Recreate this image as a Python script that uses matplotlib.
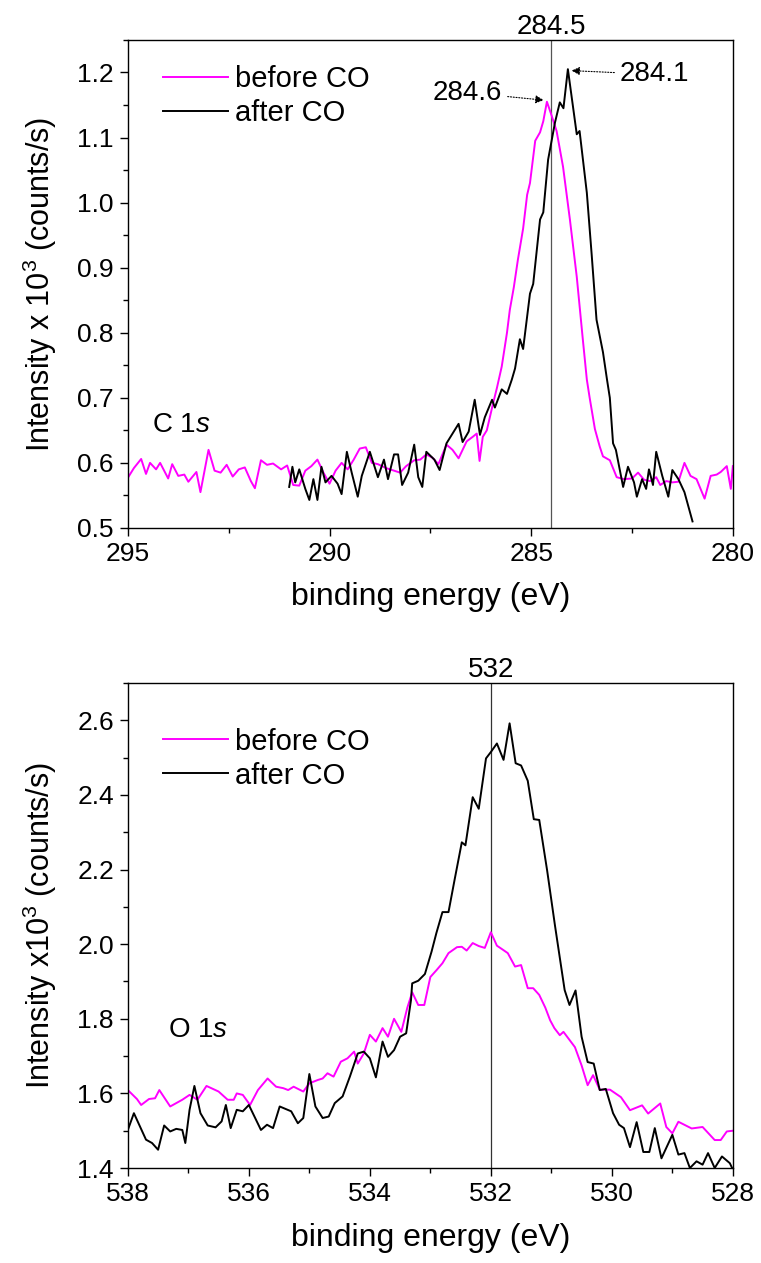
import matplotlib
matplotlib.use("Agg")
import matplotlib.pyplot as plt
from matplotlib.ticker import MultipleLocator, FormatStrFormatter
from matplotlib.transforms import blended_transform_factory

plt.rcParams.update({
    "font.family": ["Liberation Sans", "DejaVu Sans"],
    "mathtext.fontset": "custom",
    "mathtext.rm": "Liberation Sans",
    "mathtext.it": "Liberation Sans:italic",
    "font.size": 19,
    "axes.linewidth": 1.0,
})

MAG, BLK = "#ff00ff", "#000000"

# --- C 1s ---
c_e_before = [295.0, 294.85, 294.67, 294.55, 294.45, 294.3, 294.2, 294.0, 293.9, 293.75,
              293.6, 293.5, 293.3, 293.2, 293.0, 292.85, 292.7, 292.55, 292.4, 292.25,
              292.1, 291.95, 291.85, 291.7, 291.55, 291.4, 291.2, 291.05, 290.9, 290.75,
              290.6, 290.45, 290.3, 290.15, 290.0, 289.85, 289.7, 289.55, 289.4, 289.25,
              289.1, 288.95, 288.8, 288.6, 288.4, 288.25, 288.1, 287.9, 287.75, 287.6,
              287.45, 287.3, 287.1, 286.95, 286.8, 286.6, 286.45, 286.35, 286.28, 286.2,
              286.1, 285.95, 285.85, 285.73, 285.6, 285.53, 285.43, 285.33, 285.2, 285.1,
              285.03, 284.9, 284.78, 284.7, 284.61, 284.5, 284.37, 284.21, 284.04, 283.87,
              283.72, 283.62, 283.55, 283.42, 283.3, 283.22, 283.05, 282.88, 282.7, 282.5,
              282.35, 282.2, 282.05, 281.9, 281.8, 281.65, 281.5, 281.35, 281.2, 281.05,
              280.9, 280.7, 280.55, 280.4, 280.3, 280.15, 280.05, 280.0]
c_i_before = [0.577, 0.592, 0.606, 0.583, 0.600, 0.590, 0.600, 0.576, 0.598, 0.580,
              0.582, 0.571, 0.586, 0.555, 0.620, 0.588, 0.585, 0.597, 0.579, 0.590,
              0.593, 0.572, 0.561, 0.604, 0.597, 0.599, 0.590, 0.596, 0.566, 0.565,
              0.588, 0.595, 0.605, 0.585, 0.568, 0.588, 0.600, 0.590, 0.605, 0.622,
              0.624, 0.600, 0.598, 0.592, 0.588, 0.585, 0.595, 0.604, 0.605, 0.613,
              0.608, 0.598, 0.628, 0.620, 0.607, 0.633, 0.640, 0.645, 0.603, 0.640,
              0.650, 0.690, 0.715, 0.748, 0.800, 0.835, 0.870, 0.912, 0.960, 1.012,
              1.030, 1.095, 1.108, 1.125, 1.155, 1.135, 1.110, 1.055, 0.974, 0.886,
              0.790, 0.728, 0.700, 0.652, 0.625, 0.610, 0.604, 0.578, 0.575, 0.576,
              0.585, 0.574, 0.572, 0.578, 0.566, 0.572, 0.570, 0.571, 0.600, 0.580,
              0.575, 0.545, 0.580, 0.582, 0.586, 0.595, 0.560, 0.595]

c_e_after = [291.0, 290.92, 290.85, 290.75, 290.6, 290.5, 290.4, 290.3, 290.2, 290.1,
             289.95, 289.8, 289.7, 289.57, 289.45, 289.3, 289.2, 289.0, 288.8, 288.65,
             288.55, 288.4, 288.3, 288.2, 288.05, 287.9, 287.8, 287.7, 287.6, 287.4,
             287.27, 287.1, 287.0, 286.8, 286.7, 286.55, 286.4, 286.27, 286.15, 285.97,
             285.9, 285.73, 285.6, 285.48, 285.4, 285.28, 285.2, 285.03, 284.95, 284.78,
             284.7, 284.58, 284.41, 284.29, 284.2, 284.09, 283.87, 283.8, 283.62, 283.5,
             283.38, 283.22, 283.12, 283.05, 282.97, 282.9, 282.72, 282.6, 282.45, 282.38,
             282.25, 282.15, 282.08, 281.98, 281.9, 281.75, 281.6, 281.5, 281.35, 281.2,
             281.0]
c_i_after = [0.563, 0.594, 0.570, 0.590, 0.560, 0.543, 0.575, 0.543, 0.594, 0.570,
             0.580, 0.568, 0.552, 0.617, 0.585, 0.548, 0.580, 0.617, 0.578, 0.605,
             0.575, 0.613, 0.613, 0.566, 0.585, 0.628, 0.578, 0.563, 0.617, 0.605,
             0.589, 0.630, 0.640, 0.660, 0.632, 0.648, 0.697, 0.643, 0.670, 0.697,
             0.685, 0.713, 0.706, 0.728, 0.745, 0.790, 0.775, 0.860, 0.875, 0.974,
             0.985, 1.066, 1.123, 1.154, 1.145, 1.205, 1.105, 1.110, 1.015, 0.920,
             0.820, 0.770, 0.728, 0.700, 0.630, 0.620, 0.563, 0.594, 0.570, 0.548,
             0.575, 0.560, 0.590, 0.566, 0.617, 0.580, 0.548, 0.589, 0.575, 0.555,
             0.510]

# --- O 1s ---
o_e_before = [538.0, 537.85, 537.78, 537.65, 537.55, 537.48, 537.3, 537.1, 536.98, 536.85,
              536.7, 536.5, 536.35, 536.25, 536.2, 536.1, 535.98, 535.85, 535.69, 535.55,
              535.43, 535.35, 535.26, 535.1, 535.0, 534.86, 534.78, 534.7, 534.6, 534.48,
              534.37, 534.26, 534.2, 534.1, 534.0, 533.9, 533.79, 533.7, 533.6, 533.48,
              533.38, 533.3, 533.2, 533.1, 533.0, 532.9, 532.8, 532.7, 532.56, 532.48,
              532.4, 532.3, 532.2, 532.1, 532.0, 531.9, 531.8, 531.72, 531.6, 531.5,
              531.39, 531.3, 531.2, 531.1, 531.02, 530.95, 530.86, 530.8, 530.61, 530.5,
              530.4, 530.31, 530.2, 530.03, 529.85, 529.7, 529.5, 529.4, 529.2, 529.1,
              529.0, 528.9, 528.68, 528.5, 528.3, 528.2, 528.1, 528.0]
o_i_before = [1.609, 1.585, 1.569, 1.585, 1.587, 1.609, 1.565, 1.583, 1.596, 1.583,
              1.620, 1.605, 1.583, 1.583, 1.600, 1.596, 1.569, 1.609, 1.640, 1.618,
              1.614, 1.609, 1.618, 1.605, 1.627, 1.636, 1.640, 1.654, 1.645, 1.685,
              1.694, 1.712, 1.680, 1.707, 1.757, 1.739, 1.775, 1.752, 1.800, 1.765,
              1.830, 1.871, 1.837, 1.837, 1.912, 1.930, 1.949, 1.976, 1.992, 1.993,
              1.983, 2.003, 1.995, 1.990, 2.032, 1.996, 1.985, 1.976, 1.940, 1.944,
              1.882, 1.882, 1.864, 1.830, 1.796, 1.775, 1.756, 1.765, 1.724, 1.675,
              1.622, 1.649, 1.610, 1.610, 1.590, 1.555, 1.568, 1.546, 1.573, 1.510,
              1.493, 1.524, 1.506, 1.510, 1.475, 1.475, 1.498, 1.500]

o_e_after = [538.0, 537.9, 537.7, 537.6, 537.5, 537.4, 537.3, 537.2, 537.1, 537.05,
             536.98, 536.9, 536.8, 536.68, 536.55, 536.45, 536.38, 536.3, 536.2, 536.1,
             536.0, 535.8, 535.7, 535.6, 535.49, 535.3, 535.19, 535.1, 535.0, 534.9,
             534.78, 534.68, 534.58, 534.45, 534.33, 534.2, 534.1, 534.0, 533.9, 533.79,
             533.7, 533.6, 533.5, 533.4, 533.32, 533.3, 533.2, 533.09, 532.98, 532.9,
             532.8, 532.7, 532.6, 532.48, 532.42, 532.3, 532.2, 532.08, 532.0, 531.9,
             531.79, 531.69, 531.59, 531.5, 531.39, 531.29, 531.2, 531.07, 530.94, 530.78,
             530.7, 530.6, 530.5, 530.4, 530.3, 530.2, 530.1, 529.98, 529.88, 529.8,
             529.7, 529.59, 529.48, 529.38, 529.29, 529.18, 529.0, 528.9, 528.8, 528.71,
             528.6, 528.5, 528.41, 528.3, 528.18, 528.05, 528.0]
o_i_after = [1.502, 1.547, 1.476, 1.467, 1.449, 1.514, 1.498, 1.505, 1.502, 1.467,
             1.556, 1.620, 1.547, 1.514, 1.509, 1.525, 1.569, 1.507, 1.556, 1.552,
             1.569, 1.502, 1.516, 1.507, 1.565, 1.552, 1.520, 1.534, 1.652, 1.565,
             1.534, 1.538, 1.574, 1.592, 1.645, 1.707, 1.712, 1.694, 1.643, 1.739,
             1.698, 1.716, 1.752, 1.761, 1.850, 1.895, 1.902, 1.920, 1.980, 2.030,
             2.086, 2.086, 2.172, 2.273, 2.265, 2.394, 2.363, 2.498, 2.515, 2.538,
             2.494, 2.592, 2.485, 2.479, 2.438, 2.335, 2.333, 2.198, 2.050, 1.877,
             1.837, 1.876, 1.752, 1.684, 1.680, 1.609, 1.612, 1.547, 1.516, 1.507,
             1.456, 1.523, 1.443, 1.443, 1.507, 1.426, 1.489, 1.436, 1.440, 1.400,
             1.418, 1.409, 1.440, 1.400, 1.431, 1.413, 1.396]


def style(ax, xmaj, xmin, ymaj, ymin):
    ax.xaxis.set_major_locator(MultipleLocator(xmaj))
    ax.xaxis.set_minor_locator(MultipleLocator(xmin))
    ax.yaxis.set_major_locator(MultipleLocator(ymaj))
    ax.yaxis.set_minor_locator(MultipleLocator(ymin))
    ax.yaxis.set_major_formatter(FormatStrFormatter("%.1f"))
    ax.tick_params(which="both", direction="out", top=False, right=False, width=1.0)
    ax.tick_params(which="major", length=6, labelsize=19, pad=4)
    ax.tick_params(which="minor", length=3.5)


fig = plt.figure(figsize=(7.61, 12.63), dpi=100)
leg_kw = dict(loc="upper left", frameon=False, fontsize=21, handlelength=2.2,
              handletextpad=0.25, labelspacing=0.2, borderaxespad=0.3)
arrow = dict(arrowstyle="-|>", linestyle=(0, (1, 1.5)), color="k", lw=0.8, mutation_scale=12)

# top panel: C 1s
ax1 = fig.add_axes([0.168, 0.582, 0.795, 0.3864])
ax1.plot(c_e_before, c_i_before, color=MAG, lw=1.4, label="before CO")
ax1.plot(c_e_after, c_i_after, color=BLK, lw=1.4, label="after CO")
ax1.axvline(284.5, color="#555555", lw=0.9, zorder=0)
ax1.set_xlim(295, 280)
ax1.set_ylim(0.5, 1.25)
style(ax1, 5, 2.5, 0.1, 0.05)
ax1.set_xlabel("binding energy (eV)", fontsize=23, labelpad=12)
ax1.set_ylabel("Intensity x 10$^3$ (counts/s)", fontsize=22, labelpad=13)
tr1 = blended_transform_factory(ax1.transData, ax1.transAxes)
ax1.text(284.5, 1.0, "284.5", transform=tr1, ha="center", va="bottom", fontsize=20)
ax1.text(0.04, 0.21, "C 1$\\mathit{s}$", transform=ax1.transAxes, ha="left", va="center", fontsize=20)
ax1.annotate("284.6", xy=(284.62, 1.157), xytext=(285.72, 1.169), ha="right", va="center",
             fontsize=20, arrowprops=arrow)
ax1.annotate("284.1", xy=(284.07, 1.203), xytext=(282.8, 1.197), ha="left", va="center",
             fontsize=20, arrowprops=arrow)
ax1.legend(bbox_to_anchor=(0.025, 0.99), **leg_kw)

# bottom panel: O 1s
ax2 = fig.add_axes([0.168, 0.0752, 0.795, 0.384])
ax2.plot(o_e_before, o_i_before, color=MAG, lw=1.4, label="before CO")
ax2.plot(o_e_after, o_i_after, color=BLK, lw=1.4, label="after CO")
ax2.axvline(532, color="#333333", lw=0.9, zorder=0)
ax2.set_xlim(538, 528)
ax2.set_ylim(1.4, 2.7)
style(ax2, 2, 1, 0.2, 0.1)
ax2.set_xlabel("binding energy (eV)", fontsize=23, labelpad=12)
ax2.set_ylabel("Intensity x10$^3$ (counts/s)", fontsize=22, labelpad=13)
tr2 = blended_transform_factory(ax2.transData, ax2.transAxes)
ax2.text(532, 1.0, "532", transform=tr2, ha="center", va="bottom", fontsize=20)
ax2.text(0.066, 0.285, "O 1$\\mathit{s}$", transform=ax2.transAxes, ha="left", va="center", fontsize=20)
ax2.legend(bbox_to_anchor=(0.025, 0.95), **leg_kw)

fig.savefig("out.png", dpi=100)
